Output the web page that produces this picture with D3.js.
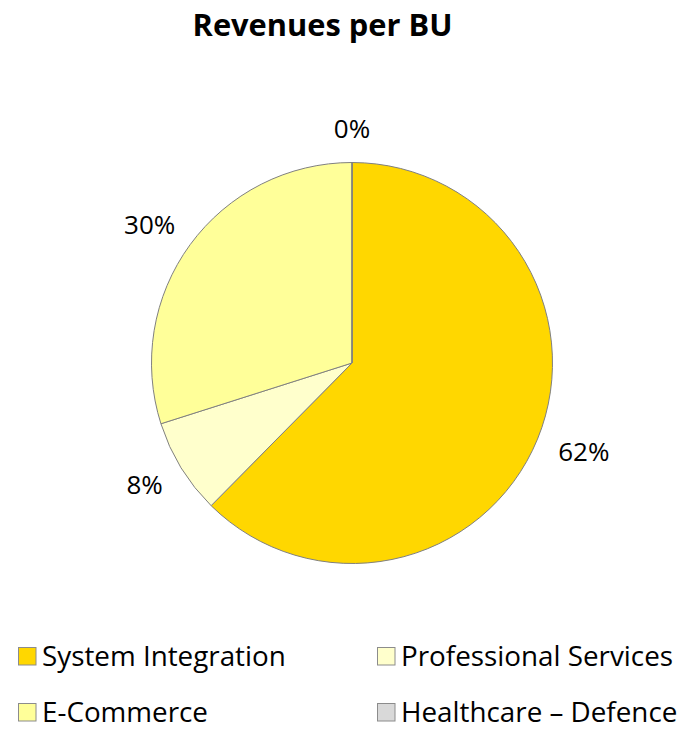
<!DOCTYPE html>
<html>
<head>
<meta charset="utf-8">
<script src="https://cdn.jsdelivr.net/npm/d3@7"></script>
<style>
  html, body { margin: 0; padding: 0; background: #fff; }
  svg { display: block; }
  text { font-family: "Open Sans", "Liberation Sans", sans-serif; fill: #000; }
</style>
</head>
<body>
<svg id="chart" width="687" height="730"></svg>
<script>
const title = "Revenues per BU";
const categories = ["System Integration", "Professional Services", "E-Commerce", "Healthcare – Defence"];
const values = [62.4, 7.7, 29.9, 0];
const colors = ["#FFD700", "#FFFFCC", "#FFFF99", "#D9D9D9"];

const svg = d3.select("#chart");
const cx = 352, cy = 363, R = 200.5;

svg.append("text")
  .attr("x", 322.5).attr("y", 36)
  .attr("text-anchor", "middle")
  .style("font-weight", "bold").style("font-size", "30.8px")
  .text(title);

const data = categories.map((c, i) => ({ name: c, value: values[i], color: colors[i] }));
const total = d3.sum(values);
const pie = d3.pie().value(d => d.value).sort(null);
const arcs = pie(data);
const arc = d3.arc().innerRadius(0).outerRadius(R);
const labelArc = d3.arc().innerRadius(225).outerRadius(225);

const g = svg.append("g").attr("transform", `translate(${cx},${cy})`);
g.selectAll("path").data(arcs).join("path")
  .attr("d", arc)
  .attr("fill", d => d.data.color)
  .attr("stroke", "#808080")
  .attr("stroke-width", 1);

const fmt = d3.format(".0%");
const labels = g.selectAll("text.lbl").data(arcs).join("text")
  .attr("class", "lbl")
  .style("font-size", "26px")
  .attr("text-anchor", "middle")
  .text(d => fmt(d.data.value / total));

labels.each(function(d) {
  const [x, y] = labelArc.centroid(d);
  const a = (d.startAngle + d.endAngle) / 2;
  const dx = Math.sin(a), dy = -Math.cos(a);
  const w = this.getComputedTextLength();
  const h = 18;
  const px = x + dx * w / 2;
  const py = y + dy * h / 2;
  d3.select(this).attr("x", px).attr("y", py + h / 2);
});

// legend
const legendX = [18, 377];
const legendY = [647, 703];
const leg = svg.append("g");
data.forEach((d, i) => {
  const col = i % 2, row = Math.floor(i / 2);
  const item = leg.append("g").attr("transform", `translate(${legendX[col]},${legendY[row]})`);
  item.append("rect").attr("x", 0.5).attr("y", 0.5).attr("width", 17.5).attr("height", 17.5)
    .attr("fill", d.color).attr("stroke", "#8c8c8c").attr("stroke-width", 1);
  item.append("text").attr("x", 24).attr("y", 18.5)
    .style("font-size", "27.8px")
    .text(d.name);
});
</script>
</body>
</html>
